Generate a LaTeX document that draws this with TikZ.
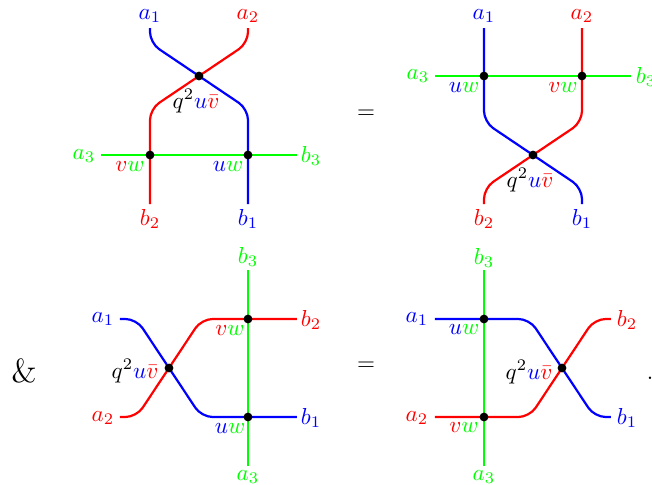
\documentclass[tikz,border=0pt]{standalone}
\usepackage{xcolor}
\definecolor{gr}{rgb}{0,1,0}
\definecolor{bl}{rgb}{0,0,1}
\definecolor{rd}{rgb}{1,0,0}
\newcommand{\qlab}{$q^2{\color{bl}u}{\color{rd}\bar v}$}
\newcommand{\uwlab}{${\color{bl}u}{\color{gr}w}$}
\newcommand{\vwlab}{${\color{rd}v}{\color{gr}w}$}
\tikzset{
  wire/.style={line width=1pt,rounded corners=5pt},
  gw/.style={wire,draw=gr},
  bw/.style={wire,draw=bl},
  rw/.style={wire,draw=rd},
  vertexdot/.style={circle,fill=black,draw=none,minimum size=4pt,inner sep=0pt},
  lab/.style={inner sep=0pt,anchor=center,scale=1.05},
  lg/.style={lab,text=gr},
  lb/.style={lab,text=bl},
  lr/.style={lab,text=rd}
}
\begin{document}
\begin{tikzpicture}[x=0.4545pt,y=-0.4545pt]
\useasboundingbox (0,0) rectangle (652,485);
% panel 1
\coordinate (a1s) at (150,28); \coordinate (a2s) at (248,28);
\coordinate (a1c) at (150,43); \coordinate (a2c) at (248,43);
\coordinate (x1) at (199,76);
\coordinate (r1c) at (150,109); \coordinate (b1c) at (248,109);
\coordinate (r1e) at (150,204); \coordinate (b1e) at (248,204);
\coordinate (g1s) at (101,155); \coordinate (g1e) at (297,155);
\draw[gw] (g1s) -- (g1e);
\draw[bw] (a1s) -- (a1c) -- (x1) -- (b1c) -- (b1e);
\draw[rw] (a2s) -- (a2c) -- (x1) -- (r1c) -- (r1e);
\node[vertexdot] (d1a) at (x1) {};
\node[vertexdot] (d1b) at (150,155) {};
\node[vertexdot] (d1c) at (248,155) {};
\node[lb] (l1a1) at (150,16) {$a_1$};
\node[lr] (l1a2) at (248,16) {$a_2$};
\node[lg] (l1a3) at (84,156) {$a_3$};
\node[lg] (l1b3) at (311,156) {$b_3$};
\node[lr] (l1b2) at (150,219) {$b_2$};
\node[lb] (l1b1) at (248,219) {$b_1$};
\node[lab] (l1vw) at (130,167) {\vwlab};
\node[lab] (l1uw) at (228,167) {\uwlab};
\node[lab] (l1q) at (196,101) {\qlab};
\node[lab] (eq1) at (366,114) {$=$};
% panel 2
\coordinate (a3s) at (484,28); \coordinate (a4s) at (582,28);
\coordinate (a3c) at (484,122); \coordinate (a4c) at (582,122);
\coordinate (x2) at (533,155);
\coordinate (r2c) at (484,188); \coordinate (b2c) at (582,188);
\coordinate (r2e) at (484,204); \coordinate (b2e) at (582,204);
\coordinate (g2s) at (435,76); \coordinate (g2e) at (631,76);
\draw[gw] (g2s) -- (g2e);
\draw[bw] (a3s) -- (a3c) -- (x2) -- (b2c) -- (b2e);
\draw[rw] (a4s) -- (a4c) -- (x2) -- (r2c) -- (r2e);
\node[vertexdot] (d2a) at (x2) {};
\node[vertexdot] (d2b) at (484,76) {};
\node[vertexdot] (d2c) at (582,76) {};
\node[lb] (l2a1) at (484,16) {$a_1$};
\node[lr] (l2a2) at (582,16) {$a_2$};
\node[lg] (l2a3) at (418,76) {$a_3$};
\node[lg] (l2b3) at (646,77) {$b_3$};
\node[lr] (l2b2) at (484,219) {$b_2$};
\node[lb] (l2b1) at (582,219) {$b_1$};
\node[lab] (l2uw) at (464,88) {\uwlab};
\node[lab] (l2vw) at (563,88) {\vwlab};
\node[lab] (l2q) at (530,180) {\qlab};
% panel 3
\coordinate (a5s) at (120,319); \coordinate (a6s) at (120,417);
\coordinate (a5c) at (136.5,319); \coordinate (a6c) at (136.5,417);
\coordinate (x3) at (169,368);
\coordinate (b5c) at (201.5,417); \coordinate (r5c) at (201.5,319);
\coordinate (b5e) at (297,417); \coordinate (r5e) at (297,319);
\coordinate (g3s) at (248,270); \coordinate (g3e) at (248,466);
\draw[gw] (g3s) -- (g3e);
\draw[bw] (a5s) -- (a5c) -- (x3) -- (b5c) -- (b5e);
\draw[rw] (a6s) -- (a6c) -- (x3) -- (r5c) -- (r5e);
\node[vertexdot] (d3a) at (x3) {};
\node[vertexdot] (d3b) at (248,319) {};
\node[vertexdot] (d3c) at (248,417) {};
\node[lg] (l3b3) at (248,257) {$b_3$};
\node[lg] (l3a3) at (248,477) {$a_3$};
\node[lb] (l3a1) at (103,319) {$a_1$};
\node[lr] (l3a2) at (103,418) {$a_2$};
\node[lr] (l3b2) at (311,320) {$b_2$};
\node[lb] (l3b1) at (311,418) {$b_1$};
\node[lab] (l3vw) at (230,331) {\vwlab};
\node[lab] (l3uw) at (230,429) {\uwlab};
\node[lab] (l3q) at (135,371) {\qlab};
\node[lab] (eq2) at (366,366) {$=$};
\node[lab,font=\Large] (amp) at (24,371) {\&};
% panel 4
\coordinate (a7s) at (435,319); \coordinate (a8s) at (435,417);
\coordinate (a7c) at (529.5,319); \coordinate (a8c) at (529.5,417);
\coordinate (x4) at (562,368);
\coordinate (b7c) at (594.5,417); \coordinate (r7c) at (594.5,319);
\coordinate (b7e) at (611,417); \coordinate (r7e) at (611,319);
\coordinate (g4s) at (484,270); \coordinate (g4e) at (484,466);
\draw[gw] (g4s) -- (g4e);
\draw[bw] (a7s) -- (a7c) -- (x4) -- (b7c) -- (b7e);
\draw[rw] (a8s) -- (a8c) -- (x4) -- (r7c) -- (r7e);
\node[vertexdot] (d4a) at (x4) {};
\node[vertexdot] (d4b) at (484,319) {};
\node[vertexdot] (d4c) at (484,417) {};
\node[lg] (l4b3) at (484,258) {$b_3$};
\node[lg] (l4a3) at (484,477) {$a_3$};
\node[lb] (l4a1) at (417,319) {$a_1$};
\node[lr] (l4a2) at (417,418) {$a_2$};
\node[lr] (l4b2) at (627,320) {$b_2$};
\node[lb] (l4b1) at (627,418) {$b_1$};
\node[lab] (l4uw) at (464,330) {\uwlab};
\node[lab] (l4vw) at (464,428) {\vwlab};
\node[lab] (l4q) at (529,372) {\qlab};
\node[lab] (dot) at (650,378) {.};
\end{tikzpicture}
\end{document}
